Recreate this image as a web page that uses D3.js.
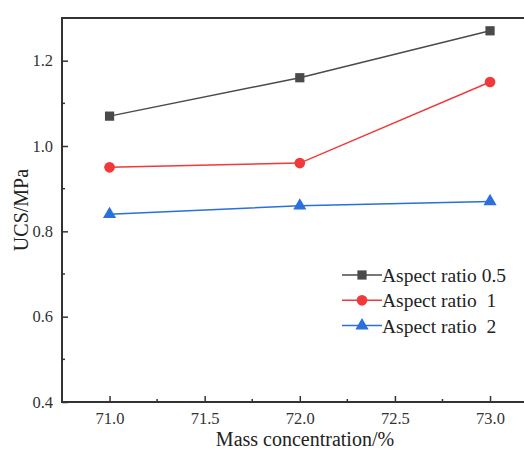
<!DOCTYPE html>
<html><head><meta charset="utf-8">
<script src="https://cdn.jsdelivr.net/npm/d3@7"></script>
<style>html,body{margin:0;padding:0;background:#fff;overflow:hidden}</style>
</head><body>
<svg id="c" width="524" height="450"></svg>
<script>
const xValues = [71.0, 72.0, 73.0];
const seriesNames = ["Aspect ratio 0.5", "Aspect ratio  1", "Aspect ratio  2"];
const series05 = [1.07, 1.16, 1.27];
const series1 = [0.95, 0.96, 1.15];
const series2 = [0.84, 0.86, 0.87];
const xTicks = [71.0, 71.5, 72.0, 72.5, 73.0];
const yTicks = [0.4, 0.6, 0.8, 1.0, 1.2];
const xLabel = "Mass concentration/%";
const yLabel = "UCS/MPa";

const colors = ["#4a4a4a", "#f03a3a", "#2a6fdb"];
const shapes = [d3.symbolSquare, d3.symbolCircle, d3.symbolTriangle];
const sizes = [85, 90, 75];
const seriesData = [series05, series1, series2];

const svg = d3.select("#c");
const L = 62, T = 18, R = 537.6, B = 402;
const x = d3.scaleLinear().domain([70.75, 73.25]).range([L, R]);
const y = d3.scaleLinear().domain([0.4, 1.3]).range([B, T]);
const font = "Times New Roman";
const axisCol = "#333";

svg.append("rect").attr("x", L).attr("y", T).attr("width", R - L).attr("height", B - T)
  .attr("fill", "none").attr("stroke", axisCol).attr("stroke-width", 2);

const minorX = d3.range(70.75, 73.26, 0.25).filter(v => !xTicks.some(t => Math.abs(t - v) < 1e-6));
const gx = svg.append("g").attr("transform", `translate(0,${B})`)
  .call(d3.axisBottom(x).tickValues(xTicks).tickFormat(d3.format(".1f")).tickSize(-6).tickPadding(10));
gx.attr("font-family", font);
gx.select(".domain").remove();
gx.selectAll("line").attr("stroke", axisCol).attr("stroke-width", 1.5);
gx.selectAll("text").attr("font-family", font).attr("font-size", 16.5).attr("fill", axisCol);
svg.append("g").selectAll("line").data(minorX).join("line")
  .attr("x1", d => x(d)).attr("x2", d => x(d)).attr("y1", B).attr("y2", B - 3)
  .attr("stroke", axisCol).attr("stroke-width", 1.5);

const minorY = [0.5, 0.7, 0.9, 1.1];
const gy = svg.append("g").attr("transform", `translate(${L},0)`)
  .call(d3.axisLeft(y).tickValues(yTicks).tickFormat(d3.format(".1f")).tickSize(-6).tickPadding(9));
gy.attr("font-family", font);
gy.select(".domain").remove();
gy.selectAll("line").attr("stroke", axisCol).attr("stroke-width", 1.5);
gy.selectAll("text").attr("font-family", font).attr("font-size", 16.5).attr("fill", axisCol);
svg.append("g").selectAll("line").data(minorY).join("line")
  .attr("x1", L).attr("x2", L + 3).attr("y1", d => y(d)).attr("y2", d => y(d))
  .attr("stroke", axisCol).attr("stroke-width", 1.5);

svg.append("text").attr("x", 305).attr("y", 446).attr("text-anchor", "middle")
  .attr("font-family", font).attr("font-size", 20).attr("fill", "#222").text(xLabel);
svg.append("text").attr("transform", `translate(28,${(T + B) / 2}) rotate(-90)`)
  .attr("text-anchor", "middle").attr("font-family", font).attr("font-size", 20).attr("fill", "#222").text(yLabel);

const line = d3.line().x((d, i) => x(xValues[i])).y(d => y(d));
seriesData.forEach((vals, k) => {
  svg.append("path").datum(vals).attr("d", line).attr("fill", "none")
    .attr("stroke", colors[k]).attr("stroke-width", 1.5);
  svg.append("g").selectAll("path").data(vals).join("path")
    .attr("transform", (d, i) => `translate(${x(xValues[i])},${y(d)})`)
    .attr("d", d3.symbol().type(shapes[k]).size(sizes[k])).attr("fill", colors[k]);
});

const lg = svg.append("g");
seriesNames.forEach((name, k) => {
  const yy = 275 + k * 25.3;
  lg.append("line").attr("x1", 342).attr("x2", 382).attr("y1", yy).attr("y2", yy)
    .attr("stroke", colors[k]).attr("stroke-width", 1.5);
  lg.append("path").attr("transform", `translate(362,${yy})`)
    .attr("d", d3.symbol().type(shapes[k]).size(sizes[k])).attr("fill", colors[k]);
  lg.append("text").attr("x", 382).attr("y", yy + 7)
    .style("white-space", "pre")
    .attr("font-family", font).attr("font-size", 19.5).attr("fill", "#222").text(name);
});
</script>
</body></html>
